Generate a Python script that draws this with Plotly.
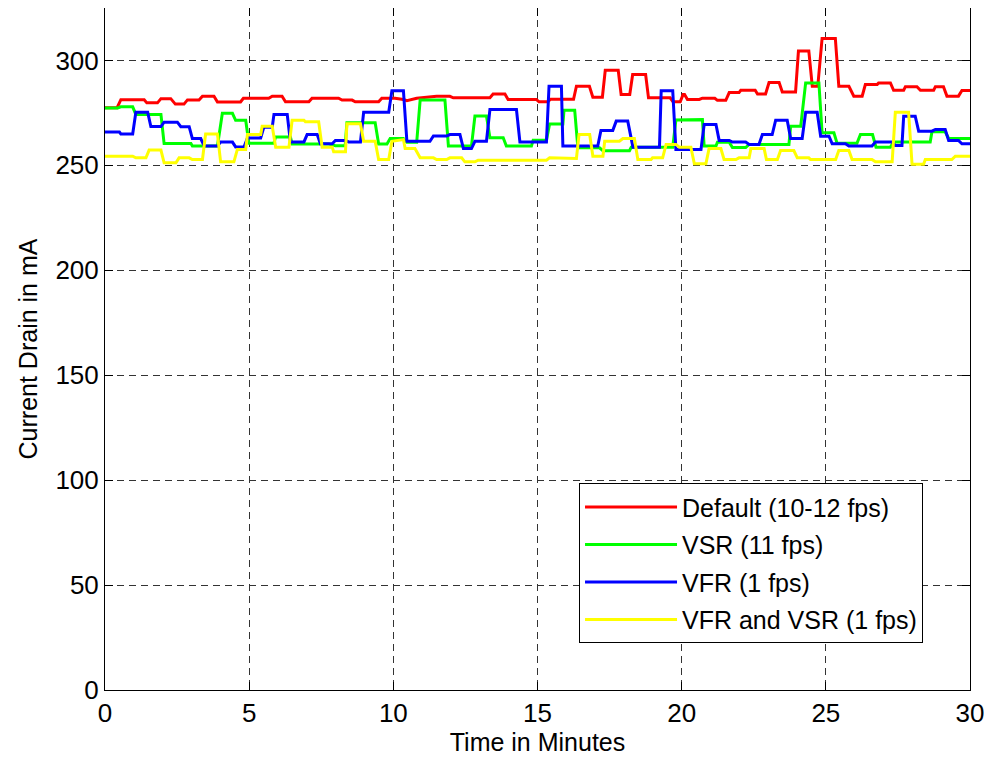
import plotly.graph_objects as go

# ---- data (vertices) ----
default_t = [0, 0.42, 0.55, 1.36, 1.45, 1.82, 1.94, 2.28, 2.44, 2.74, 2.86, 3.26, 3.38, 3.78, 3.9, 4.70, 4.8, 5.68, 5.8, 6.14,
             6.26, 7.07, 7.18, 8.1, 8.22, 8.57, 8.68, 9.49, 9.6, 10.06, 10.35, 10.47, 10.81, 11.5, 11.96, 12.08, 13.35, 13.46,
             13.87, 13.98, 14.96, 15.05, 15.36, 15.45, 16.25, 16.35, 16.8, 16.92, 17.25, 17.35, 17.8, 17.9, 18.2, 18.3, 18.75,
             18.85, 19.6, 19.7, 19.95, 20.05, 20.1, 20.2, 20.61, 20.72, 21.15, 21.24, 21.53, 21.65, 21.99, 22.05, 22.55, 22.63,
             22.91, 23.03, 23.38, 23.49, 23.95, 24.05, 24.41, 24.53, 24.72, 24.87, 25.33, 25.45, 25.8, 25.97, 26.26, 26.37,
             26.78, 26.83, 27.24, 27.35, 27.7, 27.76, 28.16, 28.28, 28.74, 28.8, 29.08, 29.2, 29.6, 29.72, 30]
default_mA = [277.5, 277.5, 281.3, 281.3, 279.8, 279.8, 281.8, 281.8, 279.2, 279.2, 281.2, 281.2, 283, 283, 280.2, 280.2, 282, 282, 283, 283,
              280.3, 280.3, 282, 282, 281.1, 281.1, 280.3, 280.3, 282, 282, 281.4, 280.8, 282, 282.9, 282.9, 282.2, 282.2, 284,
              284, 281.4, 281.4, 280.3, 280.3, 281.5, 281.5, 287.7, 287.7, 282.5, 282.5, 295.3, 295.3, 283.8, 283.8, 293.3, 293.3,
              282.2, 282.2, 280.3, 280.3, 283.8, 283.8, 281.4, 281.4, 282, 282, 281, 281, 284.7, 284.7, 285.8, 285.8, 284,
              284, 289.5, 289.5, 285, 285, 304.5, 304.5, 287.7, 287.7, 310.5, 310.5, 287.7, 287.7, 283, 283, 288.5,
              288.5, 289.3, 289.3, 285.8, 285.8, 287.5, 287.5, 285.8, 285.8, 287.5, 287.5, 283, 283, 285.7, 285.7]

vsr_t = [0, 0.44, 0.55, 0.96, 1.07, 1.94, 2.05, 2.98, 3.03, 3.9, 4.07, 4.42, 4.53, 4.88, 4.99, 5.86, 5.91, 6.43, 6.49, 7.76,
         7.99, 8.33, 8.39, 9.37, 9.49, 9.78, 9.89, 10.35, 10.47, 10.81, 10.93, 11.79, 11.91, 12.71, 12.83, 13.23, 13.35, 13.81,
         13.92, 14.79, 14.85, 15.31, 15.42, 15.88, 15.92, 16.29, 16.4, 17.15, 17.27, 18.19, 18.25, 19.69, 19.8, 20.72, 20.78,
         21.19, 21.24, 21.65, 21.76, 22.22, 22.34, 23.72, 23.78, 24.13, 24.3, 24.76, 24.87, 25.28, 25.39, 26.08, 26.2, 26.62,
         26.74, 27.24, 27.35, 28.62, 28.68, 29.14, 29.26, 30]
vsr_mA = [277.4, 277.4, 277.9, 277.9, 274.3, 274.3, 260.4, 260.4, 259.2, 259.2, 274.8, 274.8, 271.5, 271.5, 260.5, 260.5, 263.5, 263.5, 260.2, 260.2,
          259.4, 259.4, 270.3, 270.3, 260.2, 260.2, 262.8, 262.8, 261, 261, 281.1, 281.1, 259.2, 259.2, 273.5, 273.5, 263.2, 263.2,
          259.2, 259.2, 262, 262, 269.7, 269.7, 276.3, 276.3, 258.4, 258.4, 257, 257, 258.6, 258.6, 271.6, 271.8, 259.2,
          259.2, 261, 261, 258.5, 258.5, 260, 260, 268.7, 268.7, 289.3, 289.3, 265.5, 265.5, 260.5, 260.5, 264.7, 264.7,
          258.7, 258.7, 261.1, 261.1, 266, 266, 262.8, 262.8]

vfr_t = [0, 0.5, 0.55, 0.96, 1.07, 1.48, 1.59, 1.94, 2.05, 2.51, 2.63, 2.92, 3.03, 3.32, 3.44, 3.9, 4.01, 4.42, 4.53, 4.82,
         4.94, 5.4, 5.51, 5.8, 5.86, 6.32, 6.43, 6.9, 7.01, 7.36, 7.47, 7.88, 7.99, 8.34, 8.45, 8.86, 8.97, 9.84, 9.95, 10.35,
         10.47, 11.27, 11.39, 11.85, 11.96, 12.31, 12.43, 12.71, 12.83, 13.23, 13.35, 14.27, 14.39, 15.31, 15.4, 15.83, 15.88,
         17.09, 17.2, 17.61, 17.73, 18.13, 18.31, 19.23, 19.29, 19.69, 19.8, 20.67, 20.78, 21.19, 21.3, 21.65, 21.76, 22.22,
         22.34, 22.68, 22.8, 23.14, 23.26, 23.66, 23.78, 24.18, 24.3, 24.7, 24.82, 25.11, 25.22, 25.68, 25.8, 26.6, 26.72,
         27.3, 27.41, 27.64, 27.7, 28.1, 28.22, 28.68, 28.8, 29.14, 29.26, 29.6, 29.72, 30]
vfr_mA = [265.9, 265.9, 265, 265, 275.3, 275.3, 268.5, 268.5, 270.6, 270.6, 268.4, 268.4, 262.8, 262.8, 259.2, 259.2, 261.1, 261.1, 258.8, 258.8,
          263.1, 263.1, 268.2, 268.2, 274.3, 274.3, 261.2, 261.2, 264.7, 264.7, 260.3, 260.3, 261.9, 261.9, 261.2, 261.2, 275.3, 275.3, 285.6, 285.6,
          261.5, 261.5, 264, 264, 264.7, 264.7, 258, 258, 261.5, 261.5, 276.6, 276.6, 261.2, 261.2, 287.7, 287.7, 259.2,
          259.2, 266.6, 266.6, 271.1, 271.1, 258.7, 258.7, 285.6, 285.6, 257.6, 257.6, 269.5, 269.5, 261.9, 261.9, 261.1, 261.1,
          260, 260, 264.7, 264.7, 271.5, 271.5, 262.8, 262.8, 275.3, 275.3, 263.9, 263.9, 260.3, 260.3, 259.2, 259.2, 261.1,
          261.1, 259.5, 259.5, 273.4, 273.4, 266.3, 266.3, 267.1, 267.1, 261.9, 261.9, 260.3, 260.3]

both_t = [0, 0.96, 1.07, 1.42, 1.53, 1.94, 2.05, 2.46, 2.57, 2.92, 3.03, 3.38, 3.49, 3.9, 4.01, 4.47, 4.59, 4.88, 4.94, 5.4,
          5.45, 5.8, 5.92, 6.38, 6.49, 6.9, 6.95, 7.41, 7.53, 7.88, 7.93, 8.34, 8.39, 8.86, 8.97, 9.37, 9.49, 9.84, 9.95, 10.35,
          10.41, 10.75, 10.93, 11.39, 11.5, 11.85, 11.96, 12.37, 12.48, 12.83, 12.94, 15.31, 15.42, 15.88, 16.0, 16.35, 16.44,
          16.81, 16.92, 17.27, 17.33, 17.84, 17.96, 18.36, 18.48, 18.94, 18.99, 19.34, 19.46, 19.8, 19.92, 20.32, 20.44, 20.84,
          20.95, 21.36, 21.47, 21.88, 21.99, 22.34, 22.4, 22.86, 22.94, 23.32, 23.43, 23.89, 24.01, 24.41, 24.47, 25.34, 25.45,
          25.8, 25.91, 26.6, 26.72, 27.3, 27.41, 27.87, 27.99, 28.39, 28.45, 29.37, 29.49, 30]
both_mA = [254.4, 254.4, 253.6, 253.6, 257.3, 257.3, 251.2, 251.2, 253.6, 253.6, 252.8, 252.8, 265, 265, 251.7, 251.7, 257.6, 257.6, 264.7, 264.7,
           268.7, 268.7, 258.7, 258.7, 271.5, 271.5, 270.8, 270.8, 258.7, 258.7, 256.5, 256.5, 269.8, 269.8, 261.5, 261.5, 252.8, 252.8, 261.5, 262.3,
           258, 258, 253.6, 253.6, 252.8, 252.8, 253.6, 253.6, 251.7, 251.7, 252.5, 252.5, 253.6, 253.6, 253.3, 253.3, 264.7,
           264.7, 254.4, 254.4, 261.5, 261.5, 262.8, 262.8, 252.8, 252.8, 253.6, 253.6, 260, 260, 258.7, 258.7, 250.8, 250.8,
           258, 258, 252.8, 252.8, 253.6, 253.6, 258, 258, 252.8, 252.8, 257.1, 257.1, 253.6, 253.6, 252.8, 252.8, 257.1,
           257.1, 252.8, 252.8, 251.7, 251.7, 275.3, 275.3, 250.5, 250.5, 252.8, 252.8, 254.4, 254.4]

series_names = ["Default (10-12 fps)", "VSR (11 fps)", "VFR (1 fps)", "VFR and VSR (1 fps)"]
series_colors = ["#ff0000", "#00ff00", "#0000ff", "#ffff00"]
x_ticks = [0, 5, 10, 15, 20, 25, 30]
y_ticks = [0, 50, 100, 150, 200, 250, 300]

FONT = "Liberation Sans, Arial, sans-serif"
FS = 26

fig = go.Figure()
for i, (t, v) in enumerate([(default_t, default_mA), (vsr_t, vsr_mA), (vfr_t, vfr_mA), (both_t, both_mA)]):
    fig.add_trace(go.Scatter(x=t, y=v, mode="lines", name=series_names[i],
                             legendgroup=f"g{i}",
                             line=dict(color=series_colors[i], width=3)))

axis_common = dict(showline=True, linecolor="black", linewidth=1, mirror="ticks",
                   ticks="inside", ticklen=8, tickcolor="black",
                   showgrid=True, gridcolor="#333333", gridwidth=1, griddash="7px,5px",
                   zeroline=False, tickfont=dict(family=FONT, size=FS, color="black"))

fig.update_layout(
    width=992, height=761,
    margin=dict(l=97, r=30, t=0, b=79),
    paper_bgcolor="white", plot_bgcolor="white",
    font=dict(family=FONT, size=FS, color="black"),
    showlegend=True,
    legend=dict(x=0.548, y=0.303, xanchor="left", yanchor="top",
                bgcolor="white", bordercolor="black", borderwidth=1,
                traceorder="grouped", tracegroupgap=2,
                font=dict(family=FONT, size=25, color="black"),
                itemwidth=92),
    xaxis=dict(range=[0, 30], tickvals=x_ticks,
               title=dict(text="Time in Minutes", standoff=5, font=dict(family=FONT, size=25)),
               **axis_common),
    yaxis=dict(range=[0, 325], tickvals=y_ticks,
               title=dict(text="Current Drain in mA", standoff=10, font=dict(family=FONT, size=25)),
               **axis_common),
)

fig.write_html("out.html")
